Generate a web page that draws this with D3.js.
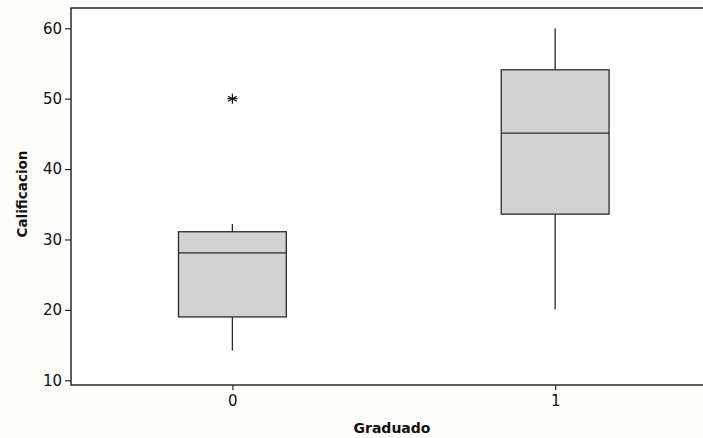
<!DOCTYPE html>
<html><head><meta charset="utf-8">
<script src="https://cdn.jsdelivr.net/npm/d3@7"></script>
<style>
html,body{margin:0;padding:0;background:#fcfcf8;}
svg{display:block;}
</style></head>
<body><svg id="c" width="703" height="438"></svg>
<script>
const categories = [0, 1];
const whiskerLow  = [14.2, 20.1];
const q1          = [19.0, 33.6];
const median      = [28.1, 45.1];
const q3          = [31.1, 54.1];
const whiskerHigh = [32.2, 60.0];
const outliers    = [[50.0], []];
const yTicks = [10, 20, 30, 40, 50, 60];

const W = 703, H = 438;
const m = {left: 71, top: 8, right: 703, bottom: 385};
const svg = d3.select("#c");
const x = d3.scaleLinear().domain([-0.5, 1.458]).range([m.left, m.right]);
const y = d3.scaleLinear().domain([9.33, 62.88]).range([m.bottom, m.top]);
const boxW = x(0.334) - x(0);
const font = "'DejaVu Sans', Verdana, sans-serif";
const dark = "#2a2a2a";

svg.append("rect").attr("x", m.left).attr("y", m.top)
  .attr("width", m.right - m.left).attr("height", m.bottom - m.top).attr("fill", "#ffffff");

const g = svg.append("g");
categories.forEach((c, i) => {
  const cx = x(c);
  g.append("line").attr("x1", cx).attr("x2", cx).attr("y1", y(whiskerHigh[i])).attr("y2", y(q3[i]))
    .attr("stroke", dark).attr("stroke-width", 1.3);
  g.append("line").attr("x1", cx).attr("x2", cx).attr("y1", y(q1[i])).attr("y2", y(whiskerLow[i]))
    .attr("stroke", dark).attr("stroke-width", 1.3);
  g.append("rect").attr("x", cx - boxW/2).attr("y", y(q3[i]))
    .attr("width", boxW).attr("height", y(q1[i]) - y(q3[i]))
    .attr("fill", "#d3d3d3").attr("stroke", dark).attr("stroke-width", 1.3);
  g.append("line").attr("x1", cx - boxW/2).attr("x2", cx + boxW/2)
    .attr("y1", y(median[i])).attr("y2", y(median[i]))
    .attr("stroke", dark).attr("stroke-width", 1.3);
  outliers[i].forEach(v => {
    const oy = y(v), r = 5;
    const sym = g.append("g").attr("transform", `translate(${cx},${oy})`);
    [0, 60, 120].forEach(a => {
      const rad = a * Math.PI / 180;
      sym.append("line").attr("x1", -r*Math.sin(rad)).attr("y1", -r*Math.cos(rad))
        .attr("x2", r*Math.sin(rad)).attr("y2", r*Math.cos(rad))
        .attr("stroke", "#111").attr("stroke-width", 1.2);
    });
    sym.append("line").attr("x1", -r).attr("x2", r).attr("y1", 0).attr("y2", 0)
      .attr("stroke", "#111").attr("stroke-width", 1.2);
  });
});

// axes
const yAxis = d3.axisLeft(y).tickValues(yTicks).tickSize(6).tickPadding(3).tickSizeOuter(0);
const ya = svg.append("g").attr("transform", `translate(${m.left},0)`).call(yAxis);
const xAxis = d3.axisBottom(x).tickValues(categories).tickFormat(d3.format("d")).tickSize(5).tickPadding(5).tickSizeOuter(0);
const xa = svg.append("g").attr("transform", `translate(0,${m.bottom})`).call(xAxis);
[ya, xa].forEach(a => {
  a.attr("font-size", null).attr("font-family", null);
  a.select(".domain").remove();
  a.selectAll(".tick line").attr("stroke", dark).attr("stroke-width", 1.2);
  a.selectAll(".tick text").attr("fill", "#111").style("font-family", font).style("font-size", "15px");
});
// frame: left, top, bottom
svg.append("path")
  .attr("d", `M${m.right},${m.top}H${m.left}V${m.bottom}H${m.right}`)
  .attr("fill", "none").attr("stroke", dark).attr("stroke-width", 1.5);

svg.append("text").attr("x", 392).attr("y", 433).attr("text-anchor", "middle")
  .style("font-family", font).style("font-size", "14px").style("font-weight", "bold")
  .attr("fill", "#111").text("Graduado");
svg.append("text").attr("transform", "translate(27,194) rotate(-90)").attr("text-anchor", "middle")
  .style("font-family", font).style("font-size", "13.5px").style("font-weight", "bold")
  .attr("fill", "#111").text("Calificacion");
</script></body></html>
